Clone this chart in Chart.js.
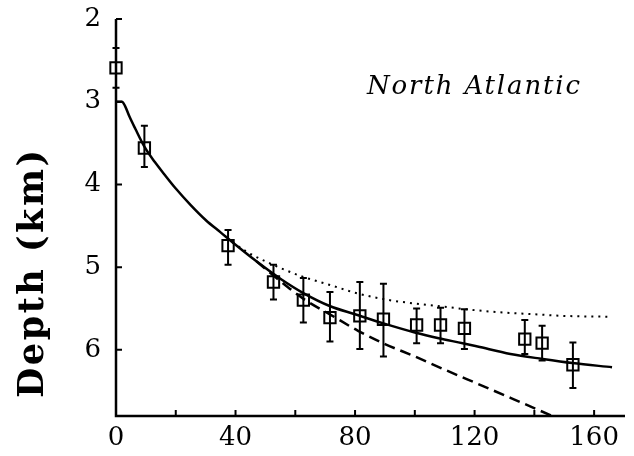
<!DOCTYPE html>
<html><head><meta charset="utf-8">
<script src="https://cdn.jsdelivr.net/npm/chart.js@4/dist/chart.umd.min.js"></script>
<style>html,body{margin:0;padding:0;background:#fff}#wrap{width:634px;height:456px}</style>
</head><body><div id="wrap"><canvas id="c" width="634" height="456"></canvas></div>
<script>
// Observed data (age in Ma, depth in km)
const ages    = [0, 9.5, 37.5, 52.7, 62.7, 71.6, 81.6, 89.5, 100.6, 108.6, 116.6, 136.8, 142.6, 152.9];
const depths  = [2.59, 3.56, 4.74, 5.18, 5.40, 5.61, 5.59, 5.63, 5.70, 5.70, 5.74, 5.87, 5.92, 6.18];
const errLow  = [2.35, 3.29, 4.55, 4.97, 5.13, 5.30, 5.18, 5.20, 5.50, 5.49, 5.51, 5.64, 5.71, 5.91];
const errHigh = [2.83, 3.79, 4.97, 5.39, 5.67, 5.90, 5.99, 6.08, 5.92, 5.92, 5.99, 6.05, 6.13, 6.46];

// Model curves
const solidAge   = [0, 2, 3, 4.5, 6.5, 9.6, 13, 16, 20, 25, 30, 35, 40, 47, 55, 63, 71.5, 80, 89.5, 100, 108, 116, 121, 132, 142.7, 152.7, 166];
const solidDepth = [3.0, 3.0, 3.05, 3.18, 3.33, 3.55, 3.73, 3.87, 4.05, 4.25, 4.43, 4.58, 4.73, 4.93, 5.14, 5.32, 5.47, 5.57, 5.68, 5.79, 5.86, 5.92, 5.96, 6.05, 6.11, 6.16, 6.21];
const dottedAge   = [39, 44, 50, 55, 62, 72, 80, 90, 100, 110, 120, 130, 140, 150, 165];
const dottedDepth = [4.70, 4.82, 4.93, 5.01, 5.11, 5.22, 5.31, 5.39, 5.44, 5.48, 5.52, 5.55, 5.57, 5.59, 5.60];
const dashedAge   = [47, 55, 63, 72, 81, 90, 100, 110, 121, 132, 146];
const dashedDepth = [4.93, 5.17, 5.39, 5.58, 5.77, 5.93, 6.08, 6.24, 6.41, 6.58, 6.80];

const xTickLabels = [0, 40, 80, 120, 160];
const xMinorTicks = [20, 40, 60, 80, 100, 120, 140, 160];
const yTickLabels = [2, 3, 4, 5, 6];

const pts = (xs, ys) => xs.map((x, i) => ({x, y: ys[i]}));

const overlay = {
  id: 'overlay',
  afterDatasetsDraw(chart) {
    const {ctx, chartArea: a, scales: {x, y}} = chart;
    ctx.save();
    ctx.strokeStyle = '#000';
    ctx.fillStyle = '#000';
    // error bars
    ctx.lineWidth = 2;
    ages.forEach((ag, i) => {
      const px = x.getPixelForValue(ag);
      const y1 = y.getPixelForValue(errLow[i]);
      const y2 = y.getPixelForValue(errHigh[i]);
      ctx.beginPath();
      ctx.moveTo(px, y1); ctx.lineTo(px, y2);
      ctx.moveTo(px - 3.5, y1); ctx.lineTo(px + 3.5, y1);
      ctx.moveTo(px - 3.5, y2); ctx.lineTo(px + 3.5, y2);
      ctx.stroke();
    });
    // axes
    ctx.lineWidth = 2.5;
    ctx.beginPath();
    ctx.moveTo(a.left, a.top); ctx.lineTo(a.left, a.bottom); ctx.lineTo(a.right + 1, a.bottom);
    ctx.stroke();
    ctx.lineWidth = 2;
    ctx.beginPath();
    yTickLabels.forEach(v => { const py = y.getPixelForValue(v); ctx.moveTo(a.left, py); ctx.lineTo(a.left + 6, py); });
    xMinorTicks.forEach(v => { const px = x.getPixelForValue(v); ctx.moveTo(px, a.bottom); ctx.lineTo(px, a.bottom - 6); });
    ctx.stroke();
    // annotation
    ctx.font = 'italic 26px "DejaVu Serif"';
    ctx.textAlign = 'left';
    ctx.textBaseline = 'alphabetic';
    const tw = ctx.measureText('North Atlantic').width;
    ctx.letterSpacing = ((213 - tw) / 13) + 'px';
    ctx.fillText('North Atlantic', 367, 94);
    ctx.letterSpacing = '0px';
    // y title
    ctx.translate(43, 274);
    ctx.rotate(-Math.PI / 2);
    ctx.font = 'bold 35px "DejaVu Serif"';
    ctx.textAlign = 'center';
    const w = ctx.measureText('Depth (km)').width;
    const ls = Math.max(0, (248 - w) / 9);
    ctx.letterSpacing = ls + 'px';
    ctx.fillText('Depth (km)', ls / 2, 0);
    ctx.restore();
  }
};

new Chart(document.getElementById('c'), {
  type: 'scatter',
  data: {
    datasets: [
      { data: pts(solidAge, solidDepth), showLine: true, borderColor: '#000', borderWidth: 2.5, pointRadius: 0, cubicInterpolationMode: 'monotone', fill: false },
      { data: pts(dottedAge, dottedDepth), showLine: true, borderColor: '#000', borderWidth: 2, borderDash: [2, 5], pointRadius: 0, cubicInterpolationMode: 'monotone', fill: false },
      { data: pts(dashedAge, dashedDepth), showLine: true, borderColor: '#000', borderWidth: 2.5, borderDash: [11, 6], pointRadius: 0, cubicInterpolationMode: 'monotone', fill: false },
      { data: pts(ages, depths), showLine: false, clip: false, pointStyle: 'rect', pointRadius: 8, borderColor: '#000', borderWidth: 2, backgroundColor: 'rgba(0,0,0,0)' }
    ]
  },
  options: {
    responsive: false,
    animation: false,
    devicePixelRatio: 1,
    layout: { padding: { top: 19, right: 2, left: 0, bottom: 0 } },
    plugins: { legend: { display: false }, tooltip: { enabled: false } },
    scales: {
      x: {
        type: 'linear', min: 0, max: 170,
        afterBuildTicks: s => { s.ticks = xTickLabels.map(v => ({value: v})); },
        afterFit: s => { s.height = 40; s.paddingLeft = 0; s.paddingRight = 0; },
        grid: { display: false, drawTicks: false },
        border: { display: false },
        ticks: { color: '#000', font: { family: 'DejaVu Serif', size: 26 }, padding: 7, maxRotation: 0 }
      },
      y: {
        type: 'linear', min: 2, max: 6.8, reverse: true,
        afterBuildTicks: s => { s.ticks = yTickLabels.map(v => ({value: v})); },
        afterFit: s => { s.width = 116; s.paddingTop = 0; s.paddingBottom = 0; },
        grid: { display: false, drawTicks: false },
        border: { display: false },
        ticks: { color: '#000', font: { family: 'DejaVu Serif', size: 26 }, padding: 15 }
      }
    }
  },
  plugins: [overlay]
});
</script></body></html>
